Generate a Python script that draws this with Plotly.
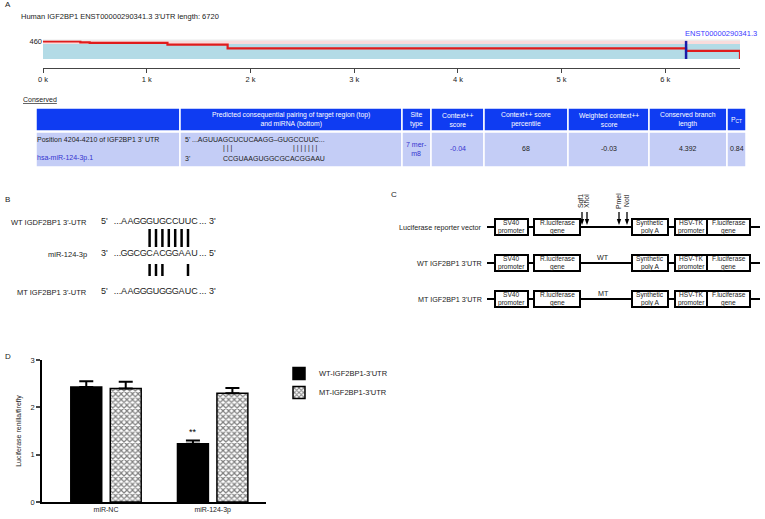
import plotly.graph_objects as go

W, H = 765, 519
FONT = "Liberation Sans, Arial, sans-serif"


def px(x):
    return x / W


def py(y):
    return 1 - y / H


# ---------------- data ----------------
# panel A: 3'UTR track (TargetScan style)
utr_length = 6720
kb_ticks = [0, 1000, 2000, 3000, 4000, 5000, 6000]
kb_labels = ["0 k", "1 k", "2 k", "3 k", "4 k", "5 k", "6 k"]
species_x = [0, 360, 450, 1200, 1780, 6200, 6720, 6720]
species_n = [460, 434, 417, 376, 274, 212, 212, 0]
blue_top = 390
pink_top = 476
site_pos = 6200
transcript = "ENST00000290341.3"

# panel A: table
table_headers = ["", "Predicted consequential pairing of target region (top)<br>and miRNA (bottom)",
                 "Site<br>type", "Context++<br>score", "Context++ score<br>percentile",
                 "Weighted context++<br>score", "Conserved branch<br>length", "P<sub>CT</sub>"]
table_values = ["", "", "7 mer-<br>m8", "-0.04", "68", "-0.03", "4.392", "0.84"]
value_colors = ["black", "black", "#3434d0", "#3434d0", "#222", "#222", "#222", "#222"]
utr_region = "...AGUUAGCUCUCAAGG–GUGCCUUC..."
mirna_region = "CCGUAAGUGGCGCACGGAAU"

# panel B: sequences
seq_labels = ["WT IGDF2BP1 3'-UTR", "miR-124-3p", "MT IGF2BP1 3'-UTR"]
sequences = ["AAGGGUGCCUUC", "GGCGCACGGAAU", "AAGGGUGGGAUC"]
seq_ends = [("5'", "3'"), ("3'", "5'"), ("5'", "3'")]
wt_pairs = [4, 5, 6, 7, 8, 9, 10]
mt_pairs = [4, 5, 6, 10]

# panel C: constructs
construct_rows = ["Luciferase reporter vector", "WT IGF2BP1 3'UTR", "MT IGF2BP1 3'UTR"]
insert_labels = ["", "WT", "MT"]
elements = ["SV40<br>promoter", "R.luciferase<br>gene", "Synthetic<br>poly A",
            "HSV-TK<br>promoter", "F.luciferase<br>gene"]
sites = ["Sgf1", "XhoI", "PmeI", "NotI"]

# panel D: luciferase assay
groups = ["miR-NC", "miR-124-3p"]
wt_mean = [2.43, 1.23]
wt_err = [0.12, 0.07]
mt_mean = [2.40, 2.30]
mt_err = [0.14, 0.11]

fig = go.Figure()
shapes = []
ann = []


def text(x, y, s, size=7.5, color="#222", xanchor="left", yanchor="middle", **kw):
    ann.append(dict(x=px(x), y=py(y), xref="paper", yref="paper", text=s, showarrow=False,
                    xanchor=xanchor, yanchor=yanchor, font=dict(size=size, color=color, family=FONT), **kw))


def pline(x0, y0, x1, y1, width=2, color="black"):
    shapes.append(dict(type="line", xref="paper", yref="paper", x0=px(x0), x1=px(x1), y0=py(y0), y1=py(y1),
                       line=dict(color=color, width=width)))


# ---------------- panel A ----------------
text(3, 5, "A", size=8)
text(19, 17, "Human IGF2BP1 ENST00000290341.3 3'UTR length: 6720", size=7.5)

shapes.append(dict(type="rect", xref="x", yref="y", x0=0, x1=utr_length, y0=blue_top, y1=pink_top,
                   fillcolor="#f9dcdc", line_width=0, layer="below"))
shapes.append(dict(type="rect", xref="x", yref="y", x0=0, x1=utr_length, y0=0, y1=blue_top,
                   fillcolor="#b3dbe6", line_width=0, layer="below"))
shapes.append(dict(type="line", xref="x", yref="y", x0=0, x1=utr_length, y0=pink_top + 14, y1=pink_top + 14,
                   line=dict(color="#e4e4e4", width=1)))

fig.add_trace(go.Scatter(x=species_x, y=species_n, mode="lines", line=dict(color="#e01c1c", width=2.2, shape="hv"),
                         xaxis="x", yaxis="y", showlegend=False, hoverinfo="skip"))
fig.add_trace(go.Scatter(x=[site_pos, site_pos], y=[0, pink_top], mode="lines", line=dict(color="#1a1aa8", width=2.5),
                         xaxis="x", yaxis="y", showlegend=False, hoverinfo="skip"))
ann.append(dict(x=site_pos, y=pink_top, xref="x", yref="y", text=transcript, showarrow=False,
                xanchor="left", yanchor="bottom", xshift=-3, yshift=1,
                font=dict(size=7.5, color="#3a3aff", family=FONT)))

# table
text(21, 100, "<u>Conserved</u>", size=7)
col_edges = [36, 180, 402, 431, 484, 568, 649, 727, 746]
for i, h in enumerate(table_headers):
    x0, x1 = col_edges[i], col_edges[i + 1]
    shapes.append(dict(type="rect", xref="paper", yref="paper", x0=px(x0), x1=px(x1), y0=py(131), y1=py(108),
                       fillcolor="#0f3cf2", line=dict(color="white", width=1.5)))
    shapes.append(dict(type="rect", xref="paper", yref="paper", x0=px(x0), x1=px(x1), y0=py(167), y1=py(132),
                       fillcolor="#c4cdf6", line=dict(color="white", width=1.5)))
    if h:
        text((x0 + x1) / 2, 119.5, h, size=6.8, color="white", xanchor="center")
    if table_values[i]:
        text((x0 + x1) / 2, 149, table_values[i], size=7, color=value_colors[i], xanchor="center")

text(35, 139, "Position 4204-4210 of IGF2BP1 3' UTR", size=7)
text(35, 158, "hsa-miR-124-3p.1", size=7, color="#3434d0")
text(183, 139, "5'", size=7)
text(190, 139, utr_region, size=7)
text(228, 148, "| | |", size=7, xanchor="center")
text(305, 148, "| | | | | | |", size=7, xanchor="center")
text(183, 158, "3'", size=7)
text(221, 158, mirna_region, size=7)

# ---------------- panel B ----------------
text(3, 200, "B", size=8)
row_y = [222, 254, 292]
for r, seq in enumerate(sequences):
    text(89, row_y[r], seq_labels[r], size=7.5, xanchor="right")
    xs = [-3.05, -1.0] + list(range(len(seq))) + [12.3, 13.8]
    ts = [seq_ends[r][0], "..."] + list(seq) + ["...", seq_ends[r][1]]
    fig.add_trace(go.Scatter(x=xs, y=[row_y[r]] * len(xs), text=ts, mode="text",
                             textfont=dict(size=9, color="#222", family=FONT),
                             xaxis="x3", yaxis="y3", showlegend=False, hoverinfo="skip"))
for i in wt_pairs:
    shapes.append(dict(type="line", xref="x3", yref="y3", x0=i, x1=i, y0=row_y[0] + 7, y1=row_y[1] - 7,
                       line=dict(color="black", width=2.5)))
for i in mt_pairs:
    shapes.append(dict(type="line", xref="x3", yref="y3", x0=i, x1=i, y0=row_y[1] + 10, y1=row_y[2] - 16,
                       line=dict(color="black", width=2.5)))

# ---------------- panel C ----------------
text(389, 194, "C", size=8)
c_rows = [227, 263, 299]
elem_x = [(495, 528), (534, 580), (632, 668), (675, 707), (707, 750)]
for r, lab in enumerate(construct_rows):
    y = c_rows[r]
    text(484, y, lab, size=7.2, xanchor="right")
    pline(487, y, 760, y)
    for (x0, x1), e in zip(elem_x, elements):
        shapes.append(dict(type="rect", xref="paper", yref="paper", x0=px(x0), x1=px(x1),
                           y0=py(y + 8), y1=py(y - 8), fillcolor="white", line=dict(color="black", width=2)))
        top, bottom = e.split("<br>")
        text((x0 + x1) / 2, y - 4.3, top, size=6.6, xanchor="center", borderpad=0)
        text((x0 + x1) / 2, y + 4.3, bottom, size=6.6, xanchor="center", borderpad=0)
    if insert_labels[r]:
        text(603, y - 6, insert_labels[r], size=7.2, xanchor="center")

site_x = [582, 587, 619, 627]
for s, x in zip(sites, site_x):
    pline(x, 212, x, 220, width=1.3)
    shapes.append(dict(type="path", xref="paper", yref="paper", fillcolor="black", line=dict(width=0),
                       path=f"M{px(x - 2.2)},{py(219)} L{px(x + 2.2)},{py(219)} L{px(x)},{py(225)} Z"))
    text(x - 1, 201, s, size=6.8, xanchor="center", textangle=-90)

# ---------------- panel D ----------------
text(3, 356, "D", size=8)
fig.add_trace(go.Bar(x=groups, y=wt_mean, name="WT-IGF2BP1-3'UTR", width=0.29, offset=-0.33,
                     marker=dict(color="black", line=dict(color="black", width=1.5)),
                     error_y=dict(type="data", array=wt_err, arrayminus=[0, 0], symmetric=False,
                                  color="black", thickness=2, width=7),
                     xaxis="x2", yaxis="y2"))
fig.add_trace(go.Bar(x=groups, y=mt_mean, name="MT-IGF2BP1-3'UTR", width=0.29, offset=0.04,
                     marker=dict(color="white", line=dict(color="black", width=1.5),
                                 pattern=dict(shape="x", fgcolor="black", bgcolor="white", size=4, solidity=0.5)),
                     error_y=dict(type="data", array=mt_err, arrayminus=[0, 0], symmetric=False,
                                  color="black", thickness=2, width=7),
                     xaxis="x2", yaxis="y2"))
ann.append(dict(x=1, y=wt_mean[1] + wt_err[1], xref="x2", yref="y2", text="**", showarrow=False,
                xshift=-20, yshift=1, yanchor="bottom", font=dict(size=9, color="black", family=FONT)))

fig.update_layout(
    width=W, height=H, margin=dict(l=0, r=0, t=0, b=0),
    paper_bgcolor="white", plot_bgcolor="rgba(0,0,0,0)",
    font=dict(family=FONT, size=7.5, color="#222"),
    barmode="overlay",
    shapes=shapes, annotations=ann,
    showlegend=True,
    legend=dict(x=px(279), y=py(359), xanchor="left", yanchor="top", bgcolor="rgba(0,0,0,0)",
                font=dict(size=7.5, family=FONT), tracegroupgap=2, itemwidth=30),
    xaxis=dict(domain=[px(43), px(740)], range=[0, utr_length], tickvals=kb_ticks, ticktext=kb_labels,
               showline=True, linecolor="#444", linewidth=1, ticks="outside", ticklen=4, tickcolor="#444",
               showgrid=False, zeroline=False, tickfont=dict(size=7.5), anchor="y", automargin=False),
    yaxis=dict(domain=[py(68), py(36)], range=[-234, 598], tickvals=[460], ticktext=["460"],
               showline=False, showgrid=False, zeroline=False, ticks="", tickfont=dict(size=7.5),
               anchor="x", automargin=False),
    xaxis2=dict(domain=[px(42), px(266)], range=[-0.6, 1.5], showline=True, linecolor="black", linewidth=1.5,
                ticks="", showgrid=False, zeroline=False, tickfont=dict(size=7), anchor="y2", automargin=False),
    yaxis2=dict(domain=[py(502), py(360)], range=[0, 3], tickvals=[0, 1, 2, 3], showline=True,
                linecolor="black", linewidth=1.5, ticks="outside", ticklen=4, tickwidth=1.5,
                showgrid=False, zeroline=False, tickfont=dict(size=7.5), automargin=False,
                title=dict(text="Luciferase renilla/firefly", font=dict(size=7), standoff=8), anchor="x2"),
    xaxis3=dict(domain=[px(100), px(220)], range=[-3.75, 15], visible=False, anchor="y3"),
    yaxis3=dict(domain=[py(310), py(205)], range=[310, 205], visible=False, anchor="x3"),
)

fig.write_html("out.html", config={"displayModeBar": False},
               post_script="document.body.style.margin='0px';document.body.style.overflow='hidden';")
